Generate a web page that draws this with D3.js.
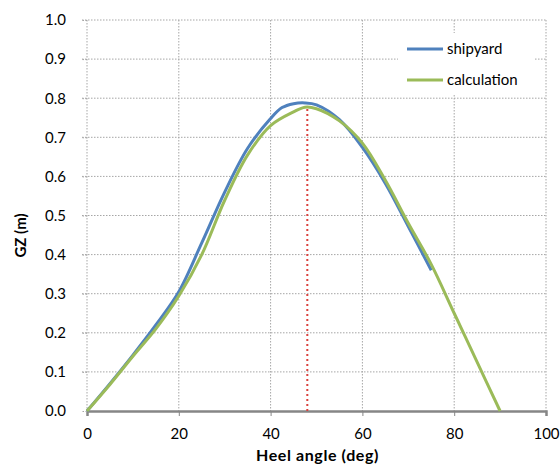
<!DOCTYPE html>
<html>
<head>
<meta charset="utf-8">
<script src="https://cdn.jsdelivr.net/npm/d3@7"></script>
<style>
  body { margin: 0; background: #fff; }
  text { font-family: Lato, "Noto Sans", sans-serif; fill: #000; }
</style>
</head>
<body>
<div id="chart"></div>
<script>
// data
var shipyardAngle = [0, 5, 10, 15, 20, 25, 30, 35, 40, 42.5, 45, 47.5, 50, 55, 60, 65, 70, 75];
var shipyardGZ    = [0, 0.07, 0.143, 0.22, 0.305, 0.43, 0.56, 0.672, 0.748, 0.776, 0.786, 0.788, 0.783, 0.745, 0.674, 0.582, 0.472, 0.36];

var calcAngle = [0, 5, 10, 15, 20, 25, 30, 35, 40, 45, 47.5, 50, 55, 60, 65, 70, 75, 80, 85, 90];
var calcGZ    = [0, 0.068, 0.14, 0.21, 0.294, 0.40, 0.539, 0.655, 0.73, 0.765, 0.777, 0.773, 0.742, 0.685, 0.59, 0.48, 0.375, 0.25, 0.125, 0];

var seriesNames = ["shipyard", "calculation"];
var xTicks = [0, 20, 40, 60, 80, 100];
var yTicks = [0, 0.1, 0.2, 0.3, 0.4, 0.5, 0.6, 0.7, 0.8, 0.9, 1.0];
var markerAngle = 48;
var markerGZ = 0.777;

// set the dimensions and margins of the graph
var margin = {top: 20, right: 14, bottom: 53, left: 87},
    width = 560 - margin.left - margin.right,
    height = 464 - margin.top - margin.bottom;

var svg = d3.select("#chart")
    .append("svg")
    .attr("width", 560)
    .attr("height", 464)
    .append("g")
    .attr("transform", "translate(" + margin.left + "," + margin.top + ")");

var x = d3.scaleLinear().domain([0, 100]).range([0, width]);
var y = d3.scaleLinear().domain([0, 1]).range([height, 0]);

// grid lines (dotted)
svg.append("g")
    .selectAll("line")
    .data(yTicks.slice(1))
    .enter().append("line")
    .attr("x1", -5).attr("x2", width)
    .attr("y1", function(d) { return y(d); })
    .attr("y2", function(d) { return y(d); })
    .attr("stroke", "#a6a6a6")
    .attr("stroke-dasharray", "1.5,1.5");

svg.append("g")
    .selectAll("line")
    .data(xTicks)
    .enter().append("line")
    .attr("x1", function(d) { return x(d); })
    .attr("x2", function(d) { return x(d); })
    .attr("y1", 0).attr("y2", height)
    .attr("stroke", "#a6a6a6")
    .attr("stroke-dasharray", "1.5,1.5");

// x axis
var xAxis = svg.append("g")
    .attr("transform", "translate(0," + height + ")")
    .call(d3.axisBottom(x).tickValues(xTicks).tickSize(5).tickPadding(12));
xAxis.select(".domain").attr("stroke", "#868686").attr("stroke-width", 2.5);
xAxis.selectAll(".tick line").attr("stroke", "#868686");
xAxis.selectAll("text").style("font-size", "15px");

// y axis labels
var yAxis = svg.append("g")
    .call(d3.axisLeft(y).tickValues(yTicks).tickSize(5).tickPadding(16).tickFormat(d3.format(".1f")));
yAxis.select(".domain").remove();
yAxis.selectAll(".tick line").attr("stroke", "#a6a6a6").attr("stroke-dasharray", "1.5,1.5");
yAxis.selectAll("text").style("font-size", "15px");

// red dotted marker at the maximum
svg.append("line")
    .attr("x1", x(markerAngle)).attr("x2", x(markerAngle))
    .attr("y1", y(0)).attr("y2", y(markerGZ))
    .attr("stroke", "#d9413d")
    .attr("stroke-width", 2)
    .attr("stroke-dasharray", "2,3");

var line = d3.line()
    .curve(d3.curveCatmullRom.alpha(0.5))
    .x(function(d) { return x(d[0]); })
    .y(function(d) { return y(d[1]); });

svg.append("path")
    .datum(d3.zip(shipyardAngle, shipyardGZ))
    .attr("fill", "none")
    .attr("stroke", "#4f81bd")
    .attr("stroke-width", 3)
    .attr("d", line);

svg.append("path")
    .datum(d3.zip(calcAngle, calcGZ))
    .attr("fill", "none")
    .attr("stroke", "#9bbb59")
    .attr("stroke-width", 3)
    .attr("d", line);

// legend
var legend = svg.append("g")
    .attr("transform", "translate(" + (398 - margin.left) + "," + (33 - margin.top) + ")");
legend.append("rect")
    .attr("width", 137).attr("height", 62)
    .attr("fill", "#fff");
var colors = ["#4f81bd", "#9bbb59"];
seriesNames.forEach(function(name, i) {
    var ly = 16 + i * 31;
    legend.append("line")
        .attr("x1", 9).attr("x2", 45)
        .attr("y1", ly).attr("y2", ly)
        .attr("stroke", colors[i])
        .attr("stroke-width", 3);
    legend.append("text")
        .attr("x", 49).attr("y", ly)
        .attr("dy", "0.35em")
        .style("font-size", "15px")
        .text(name);
});

// axis titles
svg.append("text")
    .attr("x", width / 2 + 1)
    .attr("y", height + 50)
    .attr("text-anchor", "middle")
    .style("font-size", "16px")
    .style("font-weight", "bold")
    .style("letter-spacing", "0.6px")
    .text("Heel angle (deg)");

svg.append("text")
    .attr("transform", "translate(" + (21 - margin.left) + "," + (height / 2 + 20) + ")rotate(-90)")
    .attr("text-anchor", "middle")
    .attr("dy", "0.35em")
    .style("font-size", "15px")
    .style("font-weight", "bold")
    .text("GZ (m)");
</script>
</body>
</html>
